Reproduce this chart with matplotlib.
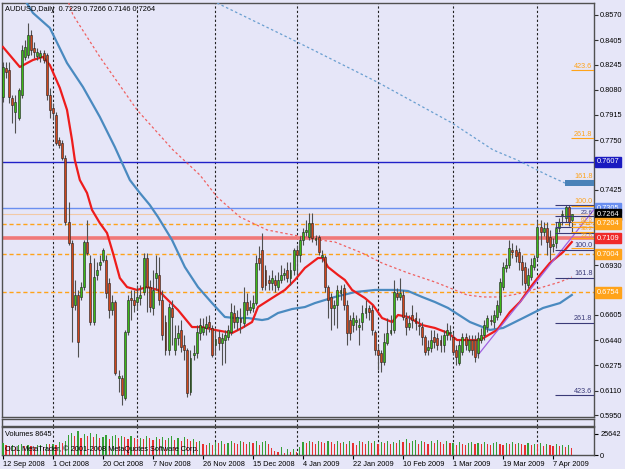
import matplotlib
matplotlib.use("Agg")
import matplotlib.pyplot as plt
import matplotlib.transforms as mtransforms
from matplotlib.patches import Rectangle
import numpy as np

plt.rcParams['font.family'] = ['Liberation Sans', 'DejaVu Sans']

# ---- daily AUDUSD candles, bar 0 = 12 Sep 2008
opens = [.8033, .8223, .8210, .8026, .7934, .7895, .8046, .8295, .8308, .8439,
         .8354, .8301, .8295, .8321, .8308, .8046, .7961, .7915, .7751, .7731,
         .7633, .7214, .7077, .6670, .6736, .6723, .6788, .7083, .6945, .6559,
         .6867, .6932, .6965, .6965, .6815, .6638, .6690, .6192, .6192, .6061,
         .6493, .6716, .6703, .6690, .6716, .6755, .6978, .6788, .6651, .6847,
         .6867, .6703, .6559, .6376, .6651, .6376, .6454, .6507, .6408, .6376,
         .6100, .6343, .6356, .6487, .6493, .6520, .6559, .6520, .6408, .6461,
         .6421, .6441, .6461, .6493, .6618, .6559, .6585, .6552, .6690, .6638,
         .6651, .6683, .6978, .7031, .6900, .6834, .6815, .6834, .6788, .6834,
         .6867, .6900, .6847, .6900, .7031, .6998, .7096, .7148, .7116, .7207,
         .7096, .7116, .6985, .6985, .6788, .6723, .6651, .6670, .6749, .6782,
         .6670, .6572, .6539, .6559, .6526, .6559, .6618, .6651, .6638, .6493,
         .6376, .6356, .6297, .6421, .6487, .6507, .6749, .6723, .6736, .6585,
         .6526, .6605, .6585, .6539, .6526, .6461, .6376, .6389, .6461, .6454,
         .6441, .6408, .6474, .6487, .6461, .6376, .6290, .6362, .6461, .6376,
         .6441, .6441, .6356, .6441, .6474, .6526, .6572, .6559, .6592, .6624,
         .6788, .6913, .6932, .7031, .7031, .7018, .6952, .6919, .6801, .6854,
         .6919, .6985, .7181, .7148, .7175, .7116, .7057, .7077, .7175, .7260,
         .7240, .7312, .7229]
highs = [.8262, .8262, .8262, .8046, .8046, .8092, .8373, .8406, .8517, .8472,
         .8393, .8354, .8341, .8341, .8321, .8092, .7993, .7934, .7771, .7751,
         .7653, .7345, .7096, .6834, .6769, .6821, .7096, .7227, .6998, .6978,
         .6952, .6998, .7044, .6998, .6847, .6736, .6703, .6245, .6212, .6507,
         .6736, .6769, .6769, .6801, .6801, .7011, .7011, .6834, .6900, .6998,
         .6985, .6769, .6605, .6683, .6703, .6539, .6539, .6572, .6474, .6389,
         .6376, .6408, .6539, .6585, .6585, .6598, .6605, .6539, .6507, .6507,
         .6487, .6507, .6539, .6683, .6670, .6638, .6651, .6788, .6749, .6703,
         .6736, .6998, .7057, .7142, .6932, .6867, .6900, .6867, .6886, .6932,
         .6913, .6952, .6952, .7044, .7063, .7122, .7175, .7227, .7273, .7273,
         .7129, .7129, .7031, .6998, .6801, .6749, .6703, .6801, .6801, .6808,
         .6703, .6605, .6624, .6605, .6585, .6670, .6703, .6670, .6670, .6507,
         .6408, .6376, .6487, .6585, .6605, .6834, .6782, .6847, .6769, .6624,
         .6605, .6670, .6624, .6585, .6559, .6474, .6441, .6507, .6507, .6487,
         .6474, .6507, .6552, .6539, .6493, .6408, .6441, .6487, .6487, .6474,
         .6474, .6474, .6493, .6520, .6572, .6605, .6605, .6638, .6703, .6847,
         .6952, .6978, .7096, .7077, .7063, .7044, .6998, .6952, .6913, .6978,
         .6998, .7227, .7227, .7214, .7214, .7162, .7109, .7214, .7240, .7293,
         .7325, .7325, .7266]
lows = [.8000, .8157, .7993, .7862, .7797, .7882, .8026, .8275, .8288, .8308,
        .8288, .8275, .8262, .8255, .8013, .7895, .7882, .7718, .7699, .7620,
        .7194, .7063, .6428, .6638, .6330, .6703, .6769, .6998, .6539, .6539,
        .6834, .6900, .6952, .6716, .6585, .6605, .6212, .6100, .6015, .6048,
        .6474, .6572, .6624, .6638, .6670, .6736, .6624, .6624, .6605, .6769,
        .6670, .6441, .6343, .6343, .6408, .6343, .6408, .6362, .6310, .6068,
        .6081, .6310, .6323, .6441, .6474, .6474, .6493, .6330, .6343, .6376,
        .6277, .6290, .6441, .6474, .6520, .6507, .6487, .6526, .6605, .6618,
        .6624, .6670, .6900, .6769, .6769, .6769, .6769, .6755, .6769, .6815,
        .6834, .6821, .6801, .6867, .6867, .6952, .7063, .7122, .7096, .7083,
        .7063, .6998, .6952, .6755, .6585, .6507, .6539, .6520, .6703, .6638,
        .6408, .6441, .6493, .6507, .6408, .6507, .6585, .6572, .6474, .6343,
        .6245, .6231, .6277, .6408, .6474, .6487, .6703, .6703, .6572, .6474,
        .6507, .6520, .6507, .6474, .6408, .6343, .6343, .6362, .6389, .6376,
        .6362, .6362, .6441, .6441, .6343, .6277, .6277, .6343, .6376, .6362,
        .6343, .6297, .6323, .6421, .6441, .6493, .6539, .6520, .6572, .6605,
        .6769, .6886, .6913, .6978, .6952, .6900, .6801, .6769, .6782, .6834,
        .6900, .6965, .7063, .7122, .6998, .6965, .7018, .7044, .7148, .7194,
        .7214, .7188, .7146]
closes = [.8229, .8196, .8033, .7980, .8000, .8079, .8341, .8360, .8439, .8341,
          .8327, .8327, .8321, .8275, .8046, .7948, .7928, .7731, .7718, .7633,
          .7214, .7077, .6657, .6736, .6428, .6788, .7083, .7011, .6559, .6854,
          .6900, .6952, .7031, .6749, .6638, .6690, .6225, .6205, .6081, .6493,
          .6703, .6703, .6670, .6723, .6736, .6978, .6788, .6657, .6769, .6880,
          .6703, .6474, .6376, .6657, .6592, .6454, .6487, .6395, .6376, .6094,
          .6323, .6356, .6493, .6539, .6526, .6546, .6526, .6343, .6448, .6421,
          .6454, .6474, .6507, .6624, .6559, .6592, .6559, .6690, .6638, .6657,
          .6683, .6945, .6945, .6788, .6801, .6815, .6847, .6801, .6834, .6867,
          .6880, .6847, .6900, .7031, .6998, .7096, .7148, .7162, .7207, .7109,
          .7109, .7018, .6998, .6788, .6703, .6651, .6670, .6769, .6769, .6670,
          .6487, .6487, .6585, .6572, .6539, .6618, .6651, .6624, .6507, .6376,
          .6343, .6297, .6428, .6487, .6507, .6755, .6723, .6749, .6592, .6526,
          .6552, .6572, .6552, .6536, .6461, .6362, .6395, .6441, .6428, .6408,
          .6408, .6474, .6507, .6493, .6362, .6330, .6408, .6461, .6408, .6441,
          .6376, .6330, .6454, .6474, .6539, .6585, .6568, .6605, .6670, .6821,
          .6919, .6932, .7044, .7018, .6991, .6952, .6900, .6815, .6867, .6932,
          .6978, .7181, .7148, .7175, .7083, .7050, .7070, .7175, .7214, .7266,
          .7312, .7214, .7264]
volumes = [14500, 12000, 10500, 11500, 9800, 12500, 13000, 11000, 12200, 10800,
           9500, 11800, 12500, 10200, 13500, 12800,
           13800, 12500, 15500, 14200, 16800,
           24500, 26800, 22500, 28500, 21000, 25800, 23500, 27000, 22000, 24800, 20500,
           21500, 23800, 19500, 22800, 24200, 20800, 23200, 21800, 18800, 22500, 20200, 19200,
           21000, 19800, 23500, 20500, 18200, 22200, 19500, 21200, 17800, 20800,
           22800, 18500, 20000, 17200, 21500, 19800, 16800, 18800, 15200, 17500,
           13500, 12200, 14800, 11800,
           15500, 14200, 16800, 13800, 15000, 16500, 14500, 12800, 17200, 15800,
           13200, 16200, 14800, 17500, 12500, 15200, 16800, 13800,
           8500, 5200, 3800, 9200, 2500, 6800, 4200, 7800, 3200, 9500,
           15800, 14500, 17200, 16200, 13800, 17500, 15500, 14200, 16800, 15200,
           12800, 16500, 14800,
           16200, 13500, 17500, 14800, 12500, 16800, 15200, 13800, 17200, 14500,
           16500, 12800, 15800, 14200, 17000, 13500, 16200, 14800,
           17800, 15500, 19200, 14200, 16800, 18500, 13800, 17200, 15800, 12800,
           16500, 14500, 18200, 15200, 13500, 16800, 14200,
           14800, 12500, 15500, 13800, 12200, 14500, 15200, 13200, 14800, 12800,
           15500, 13500, 12200, 14200, 15800, 13800, 12500, 14800, 13200, 15200,
           12800, 14500,
           13500, 12200, 14800, 11500, 13800, 12800, 14200, 10800, 13200, 12500,
           11200, 13800, 10500, 12200, 9500, 11500, 8645]

date_ticks = [0, 16, 32, 48, 64, 80, 96, 112, 128, 144, 160, 176]
date_labels = ['12 Sep 2008', '1 Oct 2008', '20 Oct 2008', '7 Nov 2008',
               '26 Nov 2008', '15 Dec 2008', '4 Jan 2009', '22 Jan 2009',
               '10 Feb 2009', '1 Mar 2009', '19 Mar 2009', '7 Apr 2009']
month_starts = [16, 43, 68, 94, 120, 144, 171]
price_ticks = [0.8570, 0.8405, 0.8245, 0.8080, 0.7915, 0.7750, 0.7425,
               0.6930, 0.6605, 0.6440, 0.6275, 0.6110, 0.5950]

# moving averages (bar index, price)
ma_fast_x = [0, 5.4, 9.6, 12.8, 15, 18.2, 20.5, 22.1, 23, 24.6, 26.9, 28.5, 31,
             33.3, 35.2, 37.4, 39.7, 42.9, 46.1, 49.6, 51.8, 56, 60.5, 63.7,
             67.8, 73.3, 76.5, 79.7, 81.6, 86.1, 90.2, 93.4, 96.6, 100.8, 102.4,
             104, 107.2, 109.4, 111.7, 115.8, 118.4, 121.3, 124.5, 126.4, 129.6,
             134.1, 138.2, 142.4, 145.3, 152.6, 158.1, 162.2, 165.4, 168.6,
             171.8, 175, 179.2, 182]
ma_fast_y = [.8360, .8229, .8275, .8295, .8242, .8092, .7948, .7751, .7620,
             .7489, .7404, .7293, .7207, .7142, .7011, .6847, .6788, .6769,
             .6788, .6769, .6723, .6638, .6526, .6526, .6507, .6487, .6520,
             .6559, .6657, .6716, .6769, .6834, .6913, .6978, .6978, .6919,
             .6867, .6834, .6769, .6716, .6670, .6585, .6559, .6605, .6592,
             .6539, .6520, .6487, .6441, .6441, .6507, .6624, .6690, .6782,
             .6867, .6946, .7017, .7083]
ma_slow_x = [5.4, 9.6, 15, 20.5, 25.6, 31, 35.8, 40.6, 43.8, 47, 49.6, 54.1,
             58.2, 62.4, 66.9, 71, 74.2, 78.4, 82.9, 84.8, 88, 92.5, 96.6, 99.8,
             106.2, 112.6, 119, 125.4, 129.6, 134.1, 138.2, 142.4, 149.4, 155.8,
             160, 166.4, 172.8, 178.2, 182]
ma_slow_y = [.8720, .8583, .8485, .8255, .8098, .7902, .7705, .7489, .7404,
             .7325, .7247, .7096, .6919, .6788, .6683, .6592, .6585, .6585,
             .6572, .6579, .6618, .6644, .6657, .6683, .6723, .6755, .6769,
             .6769, .6762, .6723, .6690, .6651, .6559, .6507, .6520, .6585,
             .6651, .6683, .6736]
ma_long_x = [21, 22.4, 31, 42.9, 54.4, 63, 68.5, 75.8, 84.5, 92.8, 101.4, 106.2,
             114.9, 121.3, 129.6, 138.2, 143, 148.5, 153.6, 159, 164.5, 171.8,
             178.2, 182]
ma_long_y = [.8650, .8570, .8295, .7948, .7686, .7522, .7378, .7247, .7162,
             .7129, .7096, .7083, .7011, .6945, .6880, .6821, .6782, .6736,
             .6723, .6723, .6742, .6782, .6821, .6854]
ma_vlong_x = [68.5, 94.1, 119.7, 143.7, 156.8, 164.5, 174.1, 179.8]
ma_vlong_y = [.8648, .8393, .8131, .7862, .7686, .7620, .7522, .7469]

trend_x = [152, 189]
trend_y = [.6343, .7293]

fib_levels = [0, 23.6, 38.2, 50.0, 61.8, 100.0, 161.8, 261.8, 423.6]
fib_orange = (.7044, .7319)   # price at 0 and at 100
fib_dark = (.7325, .7031)
fib_orange_shown = [23.6, 38.2, 50.0, 61.8, 100.0, 161.8, 261.8, 423.6]
fib_dark_shown = [23.6, 100.0, 161.8, 261.8, 423.6]
fib_crowded = [23.6, 38.2, 50.0, 61.8]

BG = '#e6e6f8'
BULL = '#3db817'
BEAR = '#d0461c'
ORANGE = '#ffa31a'

W, H = 625, 469
fig = plt.figure(figsize=(W / 100, H / 100), dpi=100, facecolor=BG)


def px_axes(x0, y0, x1, y1):
    a = fig.add_axes([x0 / W, 1 - y1 / H, (x1 - x0) / W, (y1 - y0) / H])
    a.set_facecolor(BG)
    for s in a.spines.values():
        s.set_color('#505050')
        s.set_linewidth(1.0)
    return a


ax = px_axes(2, 3, 594, 417)
ax_mid = px_axes(2, 419, 594, 426)
ax_vol = px_axes(2, 427, 594, 455)

n = len(closes)
idx = np.arange(n)
o = np.array(opens)
c = np.array(closes)
hi = np.array(highs)
lo = np.array(lows)
XL = (-0.3, 189.1)

for a in (ax, ax_mid, ax_vol):
    a.set_xlim(*XL)
    for m in month_starts:
        a.axvline(m, color='#202020', lw=0.8, ls=(0, (2, 2)), zorder=1)

ax.set_ylim(0.5937, 0.8648)

# horizontal levels
ax.axhline(0.7607, color='#2020c8', lw=1.0, zorder=2)
ax.axhline(0.7305, color='#6a8ff0', lw=1.0, zorder=2)
ax.axhline(0.7264, color='#f2c9a6', lw=0.8, zorder=2)
ax.axhline(0.7109, color='#f07878', lw=2.6, zorder=2)
for lvl in (0.7204, 0.7004, 0.6754):
    ax.axhline(lvl, color=ORANGE, lw=1.0, ls=(0, (3, 2)), zorder=2)

# moving averages
ax.plot(ma_vlong_x, ma_vlong_y, color='#6a9fd0', lw=0.9, ls=(0, (2, 2)), zorder=3)
ax.plot(ma_long_x, ma_long_y, color='#f06060', lw=0.9, ls=(0, (2, 2)), zorder=3)
ax.plot(ma_slow_x, ma_slow_y, color='#4a8ac0', lw=1.6, zorder=3)
ax.plot(ma_fast_x, ma_fast_y, color='#ee1c1c', lw=1.6, zorder=3)
ax.plot(trend_x, trend_y, color='#a060e0', lw=0.9, zorder=3)

# candles
ax.vlines(idx, lo, hi, color='#505050', lw=0.8, zorder=4)
up = c >= o
body_lo = np.minimum(o, c)
body_h = np.maximum(np.abs(c - o), 0.0004)
ax.bar(idx, body_h, bottom=body_lo, width=0.62,
       color=np.where(up, BULL, BEAR), edgecolor='#202020', linewidth=0.4, zorder=5)

# fibonacci levels
for (p0, p100), col, x0, shown in ((fib_dark, '#3a3a78', 176.6, fib_dark_shown),
                                   (fib_orange, ORANGE, 181.8, fib_orange_shown)):
    for lev in fib_levels:
        pr = p0 + (p100 - p0) * lev / 100
        ax.hlines(pr, x0, XL[1], color=col, lw=0.8, zorder=6)
        if lev in shown:
            fs = 4.4 if lev in fib_crowded else 5.2
            ax.text(188.6, pr + 0.0003, f'{lev:.1f}', color=col, fontsize=fs,
                    ha='right', va='bottom', zorder=7)

ax.add_patch(Rectangle((179.8, 0.7450), XL[1] - 179.8, 0.0039,
                       facecolor='#4a82b8', edgecolor='none', zorder=6))

# right price scale
ax.yaxis.tick_right()
ax.set_yticks(price_ticks)
ax.set_yticklabels([f'{p:.4f}' for p in price_ticks])
ax.tick_params(axis='y', length=3, width=0.8, pad=1.5, labelsize=5.3, color='#303030')
ax.tick_params(axis='x', bottom=False, labelbottom=False)

tr = mtransforms.blended_transform_factory(ax.transAxes, ax.transData)
boxes = [(0.7607, '#1a1ac0'), (0.7305, '#6a8ff0'), (0.7264, '#000000'),
         (0.7204, ORANGE), (0.7109, '#f02a2a'), (0.7004, ORANGE), (0.6754, ORANGE)]
for pr, col in boxes:
    ax.text(1.0045, pr, f'{pr:.4f}', transform=tr, color='white', fontsize=5.3,
            ha='left', va='center', clip_on=False,
            bbox=dict(boxstyle='square,pad=0.25', facecolor=col, edgecolor=col))

ax.text(0.005, 0.992, 'AUDUSD,Daily  0.7229 0.7266 0.7146 0.7264', transform=ax.transAxes,
        ha='left', va='top', fontsize=5.3, color='black')

ax_mid.set_xticks([])
ax_mid.set_yticks([])

# volumes
vol = np.array(volumes)
vcol = ['#e83030' if i > 0 and vol[i] < vol[i - 1] else '#35a035' for i in range(n)]
ax_vol.bar(idx, vol, width=0.38, color=vcol, zorder=3)
ax_vol.set_ylim(0, 33800)
ax_vol.yaxis.tick_right()
ax_vol.set_yticks([0, 25642])
ax_vol.set_yticklabels(['0', '25642'])
ax_vol.tick_params(axis='y', length=3, width=0.8, pad=1.5, labelsize=5.3)
ax_vol.set_xticks(date_ticks)
ax_vol.set_xticklabels(date_labels, ha='left')
ax_vol.tick_params(axis='x', length=3, width=0.8, pad=1.5, labelsize=5.3)
ax_vol.text(0.005, 0.72, 'Volumes 8645', transform=ax_vol.transAxes, fontsize=5.3,
            ha='left', va='center', zorder=5)
ax_vol.text(0.005, 0.2, 'ODL MetaTrader, © 2001-2008 MetaQuotes Software Corp.',
            transform=ax_vol.transAxes, fontsize=5.3, ha='left', va='center', zorder=5)

fig.savefig('out.png', dpi=100, facecolor=BG)
